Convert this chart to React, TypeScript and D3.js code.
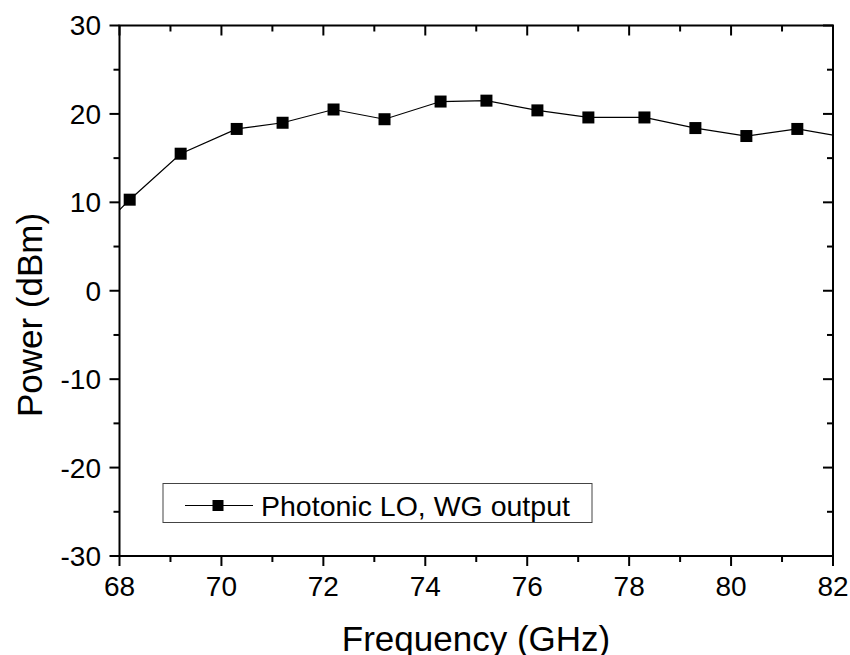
import React from "react";
import * as d3 from "d3";

const freqGHz = [67.2, 68.2, 69.2, 70.3, 71.2, 72.2, 73.2, 74.3, 75.2, 76.2, 77.2, 78.3, 79.3, 80.3, 81.3, 82.3];
const powerDbm = [4.5, 10.3, 15.5, 18.3, 19.0, 20.5, 19.4, 21.4, 21.5, 20.4, 19.6, 19.6, 18.4, 17.5, 18.3, 17.3];
const xMajorTicks = [68, 70, 72, 74, 76, 78, 80, 82];
const xMinorTicks = [69, 71, 73, 75, 77, 79, 81];
const yMajorTicks = [-30, -20, -10, 0, 10, 20, 30];
const yMinorTicks = [-25, -15, -5, 5, 15, 25];
const seriesName = "Photonic LO, WG output";
const xTitle = "Frequency (GHz)";
const yTitle = "Power (dBm)";

const W = 850, H = 655;
const L = 119.5, R = 833, T = 25.5, B = 556;
const FONT = "'Liberation Sans', Arial, sans-serif";

export default function App() {
  const x = d3.scaleLinear().domain([68, 82]).range([L, R]);
  const y = d3.scaleLinear().domain([-30, 30]).range([B, T]);
  const pts = freqGHz.map((f, i) => [f, powerDbm[i]] as [number, number]);
  const line = d3.line<[number, number]>().x(d => x(d[0])).y(d => y(d[1]))(pts) || "";
  const ms = 12;
  const majLen = 10, minLen = 6;
  return (
    <svg width={W} height={H} style={{ position: "fixed", left: 0, top: 0, background: "#fff" }} fontFamily={FONT}>
      <defs>
        <clipPath id="plotclip">
          <rect x={L} y={T} width={R - L} height={B - T} />
        </clipPath>
      </defs>
      <rect x={0} y={0} width={W} height={H} fill="#fff" />
      <g clipPath="url(#plotclip)">
        <path d={line} fill="none" stroke="#000" strokeWidth={1.2} />
        {pts.filter(p => p[0] >= 68 && p[0] <= 82).map((p, i) => (
          <rect key={i} x={x(p[0]) - ms / 2} y={y(p[1]) - ms / 2} width={ms} height={ms} fill="#000" />
        ))}
      </g>
      <g stroke="#000" strokeWidth={2}>
        {xMajorTicks.map(v => (
          <g key={"xm" + v}>
            <line x1={x(v)} x2={x(v)} y1={B} y2={B + majLen} />
            <line x1={x(v)} x2={x(v)} y1={T} y2={T + majLen} />
          </g>
        ))}
        {xMinorTicks.map(v => (
          <g key={"xn" + v}>
            <line x1={x(v)} x2={x(v)} y1={B} y2={B + minLen} />
            <line x1={x(v)} x2={x(v)} y1={T} y2={T + minLen} />
          </g>
        ))}
        {yMajorTicks.map(v => (
          <g key={"ym" + v}>
            <line x1={L - majLen} x2={L} y1={y(v)} y2={y(v)} />
            <line x1={R - majLen} x2={R} y1={y(v)} y2={y(v)} />
          </g>
        ))}
        {yMinorTicks.map(v => (
          <g key={"yn" + v}>
            <line x1={L - minLen} x2={L} y1={y(v)} y2={y(v)} />
            <line x1={R - minLen} x2={R} y1={y(v)} y2={y(v)} />
          </g>
        ))}
      </g>
      <rect x={L} y={T} width={R - L} height={B - T} fill="none" stroke="#000" strokeWidth={2} />
      {xMajorTicks.map(v => (
        <text key={"xl" + v} x={x(v)} y={596} textAnchor="middle" fontSize={28}>{v}</text>
      ))}
      {yMajorTicks.map(v => (
        <text key={"yl" + v} x={101} y={y(v)} dy="0.355em" textAnchor="end" fontSize={28}>{v}</text>
      ))}
      <text x={476} y={651} textAnchor="middle" fontSize={35}>{xTitle}</text>
      <text transform={`translate(42,315) rotate(-90)`} textAnchor="middle" fontSize={35}>{yTitle}</text>
      <rect x={163} y={483.5} width={429} height={39} fill="#fff" stroke="#444" strokeWidth={1} />
      <line x1={185} x2={253} y1={505.5} y2={505.5} stroke="#000" strokeWidth={1} />
      <rect x={218 - 5.5} y={505.5 - 5.5} width={11} height={11} fill="#000" />
      <text x={261} y={505.5} dy="0.355em" fontSize={28.5}>{seriesName}</text>
    </svg>
  );
}
